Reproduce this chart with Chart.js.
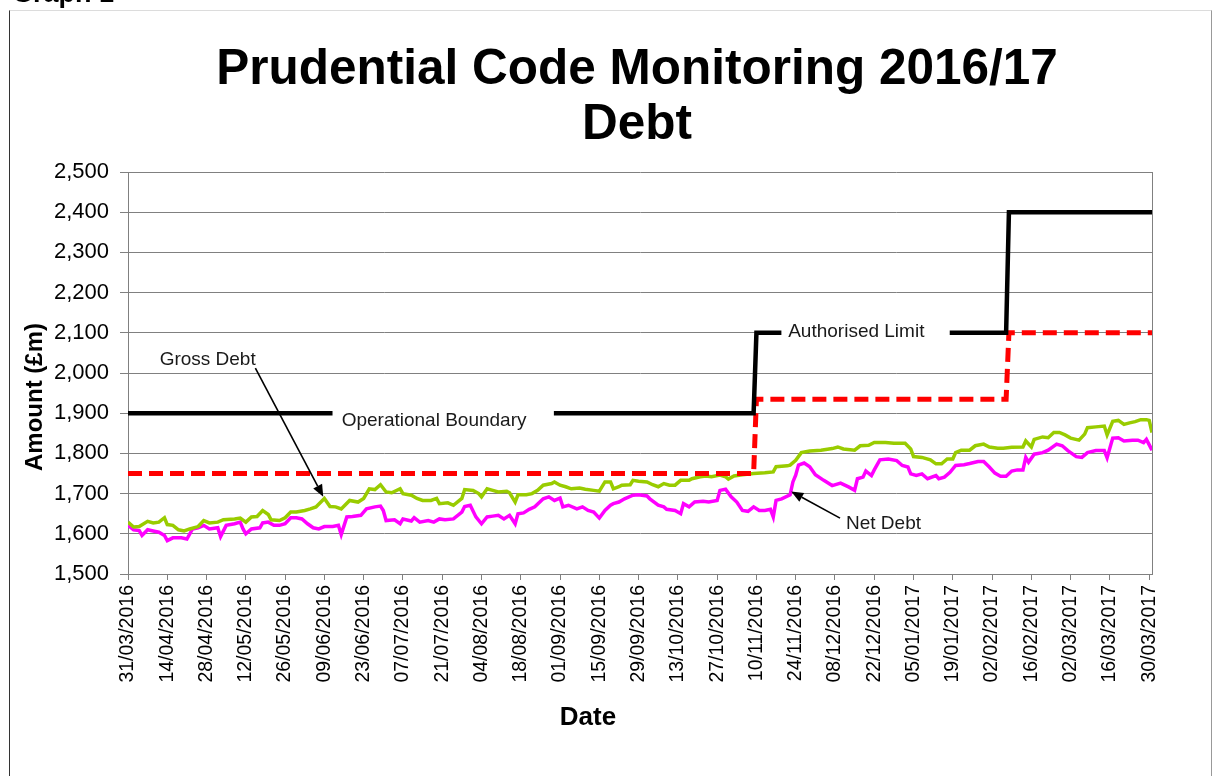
<!DOCTYPE html>
<html><head><meta charset="utf-8">
<script src="https://cdn.jsdelivr.net/npm/chart.js@4.4.0/dist/chart.umd.min.js"></script>
<style>
html,body{margin:0;padding:0;background:#fff;}
#wrap{position:relative;width:1214px;height:776px;overflow:hidden;}
#frame{position:absolute;left:9px;top:10px;width:1201px;height:800px;border-left:1px solid #333;border-top:1px solid #dcdcdc;border-right:1px solid #999;}
canvas{position:absolute;left:0;top:0;}
</style></head><body>
<div id="wrap"><div id="frame"></div><canvas id="c" width="1214" height="776"></canvas></div>
<script>
// ---- Data (x = days since 31/03/2016) ----
const xTickLabels = ['31/03/2016','14/04/2016','28/04/2016','12/05/2016','26/05/2016','09/06/2016','23/06/2016',
  '07/07/2016','21/07/2016','04/08/2016','18/08/2016','01/09/2016','15/09/2016','29/09/2016','13/10/2016',
  '27/10/2016','10/11/2016','24/11/2016','08/12/2016','22/12/2016','05/01/2017','19/01/2017','02/02/2017',
  '16/02/2017','02/03/2017','16/03/2017','30/03/2017'];
const xTickDays = [0,14,28,42,56,70,84,98,112,126,140,154,168,182,196,210,224,238,252,266,280,294,308,322,336,350,364];

const grossDays = [0,2,4,7,9,11,13,14,16,18,
  20,22,25,27,29,32,34,38,40,42,
  44,46,48,50,51,54,56,58,60,63,
  65,67,70,72,74,76,79,82,84,86,
  88,90,92,94,97,98,101,103,105,108,
  110,111,114,116,119,120,123,125,126,128,
  130,132,135,136,138,139,142,144,146,148,
  151,152,154,156,158,161,163,166,168,170,
  172,173,175,176,179,180,182,185,187,189,
  191,193,195,197,200,201,204,206,208,211,
  213,214,216,219,223,227,230,231,235,236,
  238,240,243,247,251,253,255,259,261,264,
  266,270,273,277,279,280,283,286,288,290,
  292,294,295,297,300,302,305,307,310,312,
  315,319,320,322,323,326,328,330,332,334,
  336,339,341,342,345,348,349,351,353,355,
  357,359,361,363,364,365];
const grossValues = [1629,1617,1618,1631,1627,1629,1640,1623,1621,1610,
  1607,1612,1618,1633,1627,1629,1635,1637,1639,1629,
  1642,1643,1658,1648,1635,1633,1640,1654,1654,1658,
  1662,1667,1688,1668,1667,1662,1683,1679,1688,1712,
  1710,1722,1704,1702,1712,1700,1696,1688,1683,1683,
  1688,1675,1677,1671,1688,1710,1708,1700,1692,1712,
  1708,1704,1706,1702,1679,1697,1697,1700,1708,1721,
  1725,1729,1721,1717,1712,1714,1711,1708,1706,1729,
  1729,1712,1717,1721,1722,1733,1731,1729,1722,1717,
  1725,1721,1721,1733,1733,1737,1742,1744,1742,1746,
  1742,1736,1744,1747,1750,1752,1754,1767,1769,1771,
  1783,1802,1806,1808,1812,1816,1811,1808,1819,1820,
  1827,1827,1825,1825,1811,1792,1790,1784,1774,1774,
  1786,1786,1802,1808,1808,1819,1823,1816,1813,1813,
  1815,1816,1831,1816,1835,1841,1839,1852,1852,1846,
  1838,1833,1848,1864,1866,1868,1846,1880,1882,1872,
  1876,1879,1884,1884,1882,1852];

const netDays = [0,2,4,5,7,9,11,13,14,16,
  19,21,23,25,27,29,32,33,35,38,
  40,41,42,44,47,48,50,52,54,56,
  58,60,62,64,66,68,70,73,75,76,
  78,80,83,85,88,90,91,92,95,97,
  98,101,102,104,107,109,111,113,116,119,
  120,122,124,126,128,130,132,134,136,138,
  139,141,143,145,148,150,152,154,155,157,
  160,162,164,166,168,170,172,173,175,177,
  180,182,185,186,189,191,192,195,197,198,
  200,202,205,207,210,211,213,215,217,219,
  221,223,225,227,229,230,231,233,236,237,
  238,239,241,243,245,248,251,254,257,259,
  260,262,263,265,266,268,271,274,276,278,
  279,281,283,285,288,289,291,293,295,298,
  300,303,305,307,309,311,313,315,317,319,
  320,321,323,326,328,331,333,335,338,340,
  342,345,348,349,351,353,355,358,360,362,
  363,365];
const netValues = [1621,1610,1608,1596,1610,1607,1604,1596,1583,1590,
  1590,1587,1612,1615,1621,1612,1615,1593,1621,1625,
  1629,1612,1600,1612,1615,1627,1629,1621,1621,1625,
  1640,1640,1637,1625,1615,1612,1618,1618,1621,1598,
  1642,1643,1646,1662,1667,1669,1658,1633,1635,1625,
  1637,1632,1640,1629,1633,1629,1637,1635,1637,1654,
  1668,1671,1642,1625,1642,1644,1646,1637,1646,1625,
  1650,1652,1661,1667,1687,1692,1683,1689,1667,1671,
  1662,1667,1658,1654,1639,1658,1671,1675,1679,1687,
  1696,1697,1694,1687,1671,1667,1661,1658,1650,1675,
  1667,1679,1681,1679,1683,1708,1711,1692,1679,1658,
  1656,1667,1658,1658,1661,1642,1683,1687,1697,1729,
  1746,1771,1776,1767,1747,1733,1720,1726,1716,1708,
  1737,1741,1756,1745,1759,1784,1786,1782,1770,1766,
  1749,1745,1749,1737,1745,1737,1741,1753,1770,1772,
  1775,1780,1780,1766,1751,1743,1743,1756,1759,1759,
  1790,1778,1798,1802,1808,1823,1819,1807,1792,1790,
  1802,1807,1807,1789,1838,1839,1831,1833,1833,1827,
  1835,1808];

const boundaryDays = [0,223,224,313,314,365];
const boundaryValues = [1750,1750,1935,1935,2100,2100];
const limitDays = [0,223,224,313,314,365];
const limitValues = [1900,1900,2100,2100,2400,2400];

// ---- Annotation text (anchored in data coordinates) ----
const lineLabels = [
  {text:'Operational Boundary', day:109.1, value:1882, boxFrom:72.9, boxTo:151.8, boxTop:1918, boxBottom:1852},
  {text:'Authorised Limit', day:259.6, value:2102, boxFrom:232.9, boxTo:292.9, boxTop:2130, boxBottom:2068}
];
const arrowLabels = [
  {text:'Gross Debt', day:28.4, value:2032, fromDay:45.4, fromValue:2012, toDay:69.6, toValue:1692},
  {text:'Net Debt', day:269.3, value:1625, fromDay:253.8, fromValue:1639, toDay:236.4, toValue:1705}
];

const FONT = "'Liberation Sans', Arial, Helvetica, sans-serif";
const pts = (d, v) => d.map((x, i) => ({x: x, y: v[i]}));

const deco = {
  id: 'deco',
  beforeDatasetsDraw(chart) {
    const {ctx, chartArea: a} = chart;
    ctx.save();
    ctx.strokeStyle = '#808080'; ctx.lineWidth = 1;
    ctx.beginPath(); ctx.moveTo(a.right + 0.5, a.top); ctx.lineTo(a.right + 0.5, a.bottom); ctx.stroke();
    ctx.restore();
  },
  afterDatasetsDraw(chart) {
    const {ctx, scales: {x, y}} = chart;
    ctx.save();
    ctx.textAlign = 'center'; ctx.textBaseline = 'middle';
    ctx.font = `19px ${FONT}`;
    lineLabels.forEach(b => {
      const l = x.getPixelForValue(b.boxFrom), r = x.getPixelForValue(b.boxTo);
      const t = y.getPixelForValue(b.boxTop), bt = y.getPixelForValue(b.boxBottom);
      ctx.fillStyle = '#fff'; ctx.fillRect(l, t, r - l, bt - t);
      ctx.fillStyle = '#1a1a1a';
      ctx.fillText(b.text, x.getPixelForValue(b.day), y.getPixelForValue(b.value));
    });
    arrowLabels.forEach(b => {
      ctx.fillStyle = '#1a1a1a';
      ctx.fillText(b.text, x.getPixelForValue(b.day), y.getPixelForValue(b.value));
      const x1 = x.getPixelForValue(b.fromDay), y1 = y.getPixelForValue(b.fromValue);
      const x2 = x.getPixelForValue(b.toDay), y2 = y.getPixelForValue(b.toValue);
      const ang = Math.atan2(y2 - y1, x2 - x1), L = 12, W = 5;
      const bx = x2 - L * Math.cos(ang), by = y2 - L * Math.sin(ang);
      ctx.strokeStyle = '#000'; ctx.lineWidth = 1.6;
      ctx.beginPath(); ctx.moveTo(x1, y1); ctx.lineTo(bx, by); ctx.stroke();
      ctx.fillStyle = '#000';
      ctx.beginPath(); ctx.moveTo(x2, y2);
      ctx.lineTo(bx + W * Math.sin(ang), by - W * Math.cos(ang));
      ctx.lineTo(bx - W * Math.sin(ang), by + W * Math.cos(ang));
      ctx.closePath(); ctx.fill();
    });
    ctx.restore();
  },
  afterDraw(chart) {
    const {ctx} = chart;
    ctx.save();
    ctx.fillStyle = '#000';
    ctx.textAlign = 'left'; ctx.textBaseline = 'alphabetic';
    ctx.font = `bold 27px ${FONT}`;
    ctx.fillText('Graph 1', 12, 2);
    ctx.textAlign = 'center';
    ctx.font = `bold 49.5px ${FONT}`;
    ctx.fillText('Prudential Code Monitoring 2016/17', 637, 84);
    ctx.fillText('Debt', 637, 139);
    ctx.font = `bold 26px ${FONT}`;
    ctx.textBaseline = 'middle';
    ctx.fillText('Date', 588, 718);
    ctx.translate(35, 397); ctx.rotate(-Math.PI / 2);
    ctx.font = `bold 24px ${FONT}`;
    ctx.fillText('Amount (\u00a3m)', 0, 0);
    ctx.restore();
  }
};

new Chart(document.getElementById('c'), {
  type: 'line',
  data: {
    datasets: [
      {label: 'Authorised Limit', data: pts(limitDays, limitValues), borderColor: '#000000', borderWidth: 4.5,
        pointRadius: 0, tension: 0, order: 1},
      {label: 'Operational Boundary', data: pts(boundaryDays, boundaryValues), borderColor: '#FF0000', borderWidth: 5,
        borderDash: [14, 7], pointRadius: 0, tension: 0, order: 2},
      {label: 'Gross Debt', data: pts(grossDays, grossValues), borderColor: '#99CC00', borderWidth: 3.5,
        pointRadius: 0, tension: 0, order: 3},
      {label: 'Net Debt', data: pts(netDays, netValues), borderColor: '#FF00FF', borderWidth: 3.5,
        pointRadius: 0, tension: 0, order: 4}
    ]
  },
  options: {
    responsive: false, animation: false,
    layout: {padding: {left: 10, right: 62, top: 172, bottom: 0}},
    plugins: {legend: {display: false}, tooltip: {enabled: false}, title: {display: false}},
    scales: {
      x: {
        type: 'linear', min: 0, max: 365,
        afterBuildTicks: ax => { ax.ticks = xTickDays.map(v => ({value: v})); },
        afterFit: s => { s.height = 202; },
        ticks: {autoSkip: false, minRotation: 90, maxRotation: 90, padding: 5, color: '#000',
          font: {family: FONT, size: 19.5}, callback: (v, i) => xTickLabels[i]},
        grid: {drawOnChartArea: false, drawTicks: true, tickLength: 6, color: '#808080', lineWidth: 1},
        border: {display: true, color: '#808080', width: 1}
      },
      y: {
        min: 1500, max: 2500,
        afterFit: s => { s.width = 118; },
        ticks: {stepSize: 100, padding: 11, color: '#000', font: {family: FONT, size: 22},
          callback: v => Number(v).toLocaleString('en-US')},
        grid: {color: '#808080', lineWidth: 1, tickLength: 8},
        border: {display: true, color: '#808080', width: 1}
      }
    }
  },
  plugins: [deco]
});
</script>
</body></html>
